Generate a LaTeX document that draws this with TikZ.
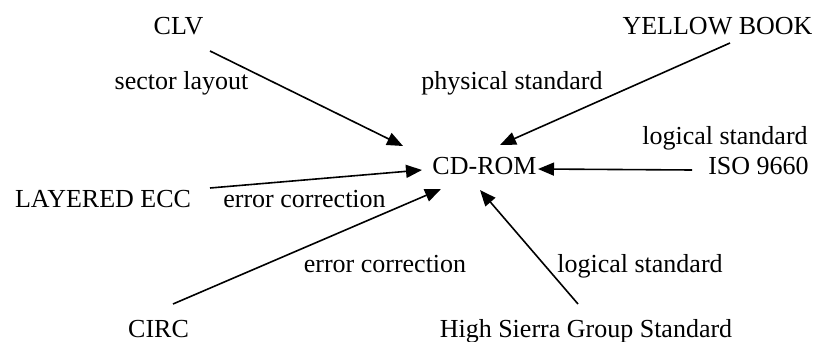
\documentclass[tikz,border=0pt]{standalone}
\usepackage{fontspec}
\setmainfont{Liberation Serif}
\usetikzlibrary{arrows.meta, calc}
\tikzset{
    font=\fontsize{13}{15}\selectfont,
    term/.style={inner sep=0pt, anchor=base},
    label_text/.style={inner sep=0pt, anchor=base},
    arrow/.style={-{Triangle[length=8pt, width=6.5pt]}, line width=0.8pt, color=black}
}
\begin{document}
\begin{tikzpicture}[x=0.5pt, y=-0.5pt]
    \useasboundingbox (0,0) rectangle (814,342);

    % Central term
    \node (cdrom) [term] at (484.5,175) {CD-ROM};

    % Related terms
    \node (clv)     [term] at (178.5,35) {CLV};
    \node (yellow)  [term] at (717.5,35) {YELLOW BOOK};
    \node (iso)     [term] at (758.5,175) {ISO 9660};
    \node (layered) [term] at (103,207) {LAYERED ECC};
    \node (circ)    [term] at (158.5,337) {CIRC};
    \node (hsg)     [term] at (586,337) {High Sierra Group Standard};

    % Edge labels
    \node (lblSector)  [label_text] at (181.5,90) {sector layout};
    \node (lblPhys)    [label_text] at (512,90) {physical standard};
    \node (lblLogIso)  [label_text] at (725,145) {logical standard};
    \node (lblEccL)    [label_text] at (304.5,207) {error correction};
    \node (lblEccC)    [label_text] at (385,272) {error correction};
    \node (lblLogHsg)  [label_text] at (640,272) {logical standard};

    % Paths into CD-ROM
    \draw [arrow] ([shift={(31.5,16)}]clv.base) -- ([shift={(-81.5,-29)}]cdrom.base);
    \draw [arrow] ([shift={(12.5,8)}]yellow.base) -- ([shift={(15.5,-30)}]cdrom.base);
    \draw [arrow] ([shift={(-66.5,-5)}]iso.base) -- ([shift={(53.5,-6)}]cdrom.base);
    \draw [arrow] ([shift={(107,-19)}]layered.base) -- ([shift={(-62.5,-5)}]cdrom.base);
    \draw [arrow] ([shift={(14.5,-33)}]circ.base) -- ([shift={(-43.5,14)}]cdrom.base);
    \draw [arrow] ([shift={(-8,-33)}]hsg.base) -- ([shift={(-4.5,15)}]cdrom.base);

\end{tikzpicture}
\end{document}
